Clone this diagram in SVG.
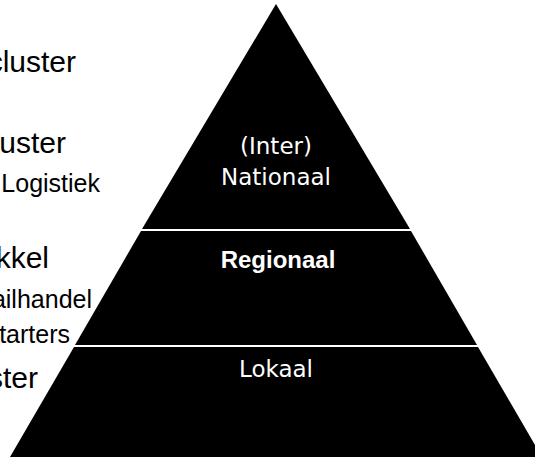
<svg xmlns="http://www.w3.org/2000/svg" width="535" height="461" viewBox="0 0 535 461">
  <style>
    .lvl { fill: #000; }
    .in { fill: #fff; font-family: "DejaVu Sans", sans-serif; font-size: 23px; text-anchor: middle; }
    .inb { fill: #fff; font-family: "Liberation Sans", Arial, sans-serif; font-size: 24px; font-weight: bold; text-anchor: middle; }
    .big { fill: #000; font-family: "Liberation Sans", Arial, sans-serif; font-size: 30px; text-anchor: end; }
    .small { fill: #000; font-family: "Liberation Sans", Arial, sans-serif; font-size: 25px; text-anchor: end; }
  </style>
  <rect x="0" y="0" width="535" height="461" fill="#fff"/>
  <g id="left-labels">
    <text class="big" x="76" y="72">cluster</text>
    <text class="big" x="66" y="153">uster</text>
    <text class="small" x="100" y="192">Logistiek</text>
    <text class="big" x="49" y="268">kkel</text>
    <text class="small" x="92" y="308">ailhandel</text>
    <text class="small" x="70" y="343">tarters</text>
    <text class="big" x="38" y="388">ster</text>
  </g>
  <g id="level-nationaal">
    <polygon class="lvl" points="276,4 142,229 410,229"/>
    <text class="in" x="276" y="154">(Inter)</text>
    <text class="in" x="276" y="185">Nationaal</text>
  </g>
  <g id="level-regionaal">
    <polygon class="lvl" points="141,231 411,231 477,345 75,345"/>
    <text class="inb" x="278" y="268">Regionaal</text>
  </g>
  <g id="level-lokaal">
    <polygon class="lvl" points="74,347 478,347 542,457 10,457"/>
    <text class="in" x="276" y="377">Lokaal</text>
  </g>
  <g id="connectors"></g>
</svg>
